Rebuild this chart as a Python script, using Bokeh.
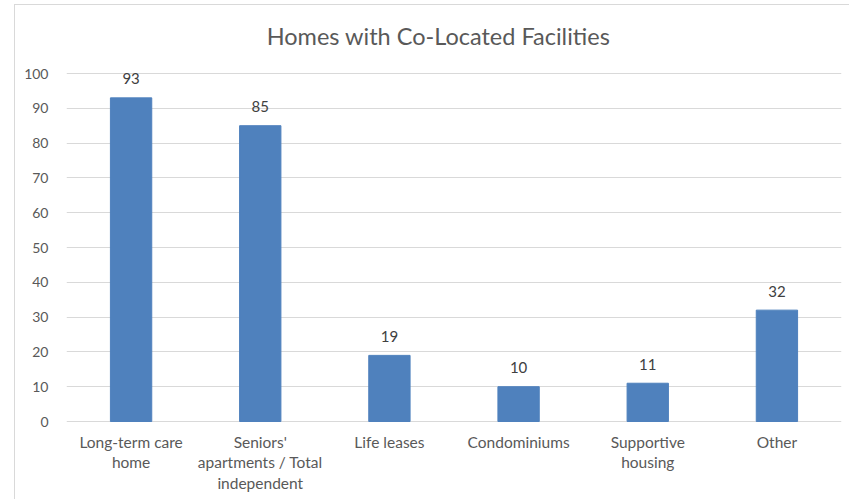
from bokeh.plotting import figure
from bokeh.models import ColumnDataSource, FactorRange, Range1d, FixedTicker, Label
from bokeh.core.properties import value
from bokeh.embed import file_html
from bokeh.resources import INLINE

title_text = "Homes with Co-Located Facilities"
categories = ["Long-term care home", "Seniors' apartments / Total independent",
              "Life leases", "Condominiums", "Supportive housing", "Other"]
tick_labels = ["Long-term care\nhome", "Seniors'\napartments / Total\nindependent",
               "Life leases", "Condominiums", "Supportive\nhousing", "Other"]
values = [93, 85, 19, 10, 11, 32]
y_ticks = [0, 10, 20, 30, 40, 50, 60, 70, 80, 90, 100]

FONT = "Lato"
GREY = "#595959"

W, H = 835, 495
TOP, LEFT, RIGHT = 68, 51, 9
PX_PER_UNIT = 3.48  # 100 units span 348 px
y_min = -(H - TOP - 100 * PX_PER_UNIT) / PX_PER_UNIT
y_max = 100 + TOP / PX_PER_UNIT
frame_w = W - LEFT - RIGHT

source = ColumnDataSource(data=dict(cat=categories, val=values,
                                    lbl=[str(v) for v in values]))
lab_source = ColumnDataSource(data=dict(cat=categories, y=[0] * len(categories),
                                        lbl=tick_labels))

p = figure(x_range=FactorRange(factors=categories, range_padding=0),
           y_range=Range1d(y_min, y_max),
           width=W, height=H, output_backend="svg", toolbar_location=None,
           min_border_left=LEFT, min_border_right=RIGHT, min_border_top=0,
           min_border_bottom=0)
p.styles = {"border-left": "1px solid #d9d9d9", "border-top": "1px solid #d9d9d9",
            "margin-left": "14px", "margin-top": "4px"}

p.vbar(x="cat", top="val", width=0.32, source=source, color="#4F81BD")
p.text(x="cat", y="val", text="lbl", source=source, text_align="center",
       text_baseline="alphabetic", y_offset=-19, text_font=value(FONT),
       text_font_size="15px", text_color="#404040")
p.text(x="cat", y="y", text="lbl", source=lab_source, text_align="center",
       text_baseline="top", y_offset=11, text_font=value(FONT),
       text_font_size="15.5px", text_color=GREY, text_line_height=1.15)

# title, centred over the chart box (slightly left of the plot frame's centre)
title_x = (438 - 15 - LEFT) / frame_w * len(categories)
title_y = 100 + 38 / PX_PER_UNIT
p.add_layout(Label(x=title_x, y=title_y, text=title_text, text_align="center",
                   text_baseline="middle", text_font=FONT, text_font_size="23.5px",
                   text_color=GREY))

p.outline_line_color = None
p.background_fill_color = "white"
p.border_fill_color = "white"

p.xaxis.visible = False
p.xgrid.grid_line_color = None
p.ygrid.grid_line_color = "#d9d9d9"
p.ygrid.ticker = FixedTicker(ticks=y_ticks)

p.yaxis.ticker = FixedTicker(ticks=y_ticks)
p.yaxis.axis_line_color = None
p.yaxis.major_tick_line_color = None
p.yaxis.minor_tick_line_color = None
p.yaxis.major_label_standoff = 12
p.yaxis.major_label_text_font = FONT
p.yaxis.major_label_text_font_size = "14px"
p.yaxis.major_label_text_color = GREY

open("out.html", "w").write(file_html(p, INLINE))
